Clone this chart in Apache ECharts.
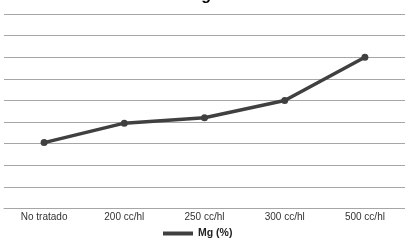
<!DOCTYPE html>
<html>
<head>
<meta charset="utf-8">
<script src="https://cdn.jsdelivr.net/npm/echarts@6/dist/echarts.min.js"></script>
<style>
  html, body { margin: 0; padding: 0; background: #fff; }
  #chart { width: 405px; height: 240px; }
</style>
</head>
<body>
<div id="chart"></div>
<script>
const categories = ['No tratado', '200 cc/hl', '250 cc/hl', '300 cc/hl', '500 cc/hl'];
const mgValues = [3.05, 3.95, 4.2, 5.0, 7.0];
const seriesName = 'Mg (%)';

const chart = echarts.init(document.getElementById('chart'));
chart.setOption({
  animation: false,
  title: {
    text: 'Magnesio',
    left: 211,
    textAlign: 'center',
    top: -17,
    textStyle: { fontFamily: 'Liberation Sans', fontSize: 16, fontWeight: 'bold', color: '#000' },
  },
  legend: {
    data: [{ name: seriesName, icon: 'rect' }],
    left: 158,
    bottom: -4,
    itemWidth: 30,
    itemHeight: 4,
    textStyle: { fontFamily: 'Liberation Sans', fontSize: 10.5, fontWeight: 'bold', color: '#222' },
  },
  grid: { left: 4, right: -6, top: 14, bottom: 31.5, containLabel: false },
  xAxis: {
    type: 'category',
    data: categories,
    boundaryGap: true,
    axisLine: { lineStyle: { color: '#a6a6a6', width: 1 } },
    axisTick: { show: false },
    axisLabel: { fontFamily: 'Liberation Sans', fontSize: 10, color: '#333', margin: 4 },
  },
  yAxis: {
    type: 'value',
    min: 0,
    max: 9,
    interval: 1,
    axisLabel: { show: false },
    axisLine: { show: false },
    axisTick: { show: false },
    splitLine: { lineStyle: { color: '#a6a6a6', width: 1 } },
  },
  series: [
    {
      name: seriesName,
      type: 'line',
      data: mgValues,
      symbol: 'circle',
      symbolSize: 7,
      lineStyle: { color: '#404040', width: 3.5 },
      itemStyle: { color: '#404040' },
    },
  ],
});
</script>
</body>
</html>
